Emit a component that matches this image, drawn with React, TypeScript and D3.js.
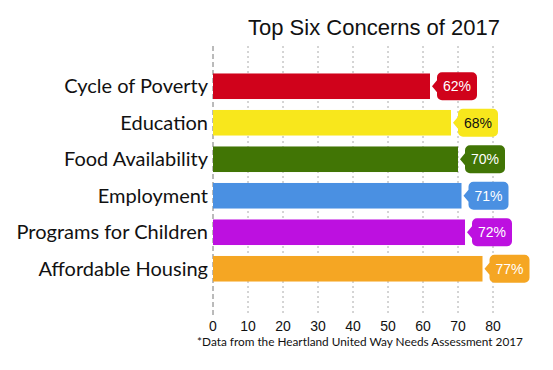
import React from 'react';
import * as d3 from 'd3';

// values
const categories = ['Cycle of Poverty', 'Education', 'Food Availability', 'Employment', 'Programs for Children', 'Affordable Housing'];
const values = [62, 68, 70, 71, 72, 77];
const colors = ['#d0021b', '#f8e71c', '#417505', '#4a90e2', '#bd10e0', '#f5a623'];
const labelColors = ['#fff', '#111', '#fff', '#fff', '#fff', '#fff'];
const ticks = [0, 10, 20, 30, 40, 50, 60, 70, 80];

function App() {
    const layout = { width: 553, height: 370, left: 213, top: 68, plotBottom: 287 };

    const x = d3.scaleLinear().domain([0, 80]).range([layout.left, layout.left + 280]);
    const y = d3.scaleBand()
        .domain(categories)
        .range([layout.top, layout.plotBottom])
        .paddingInner(0.3)
        .paddingOuter(0.15);

    // callout shape: arrow tip at bar end, rounded box to the right
    const callout = (x0: number, cy: number) => {
        const tip = x0 + 2, bx = x0 + 7, w = 40, h = 28, r = 5;
        const top = cy - h / 2, bot = cy + h / 2;
        const p = d3.path();
        p.moveTo(tip, cy);
        p.lineTo(bx, cy - 6);
        p.lineTo(bx, top + r);
        p.arcTo(bx, top, bx + r, top, r);
        p.lineTo(bx + w - r, top);
        p.arcTo(bx + w, top, bx + w, top + r, r);
        p.lineTo(bx + w, bot - r);
        p.arcTo(bx + w, bot, bx + w - r, bot, r);
        p.lineTo(bx + r, bot);
        p.arcTo(bx, bot, bx, bot - r, r);
        p.lineTo(bx, cy + 6);
        p.closePath();
        return p.toString();
    };

    return (
        <svg width={layout.width} height={layout.height}
            style={{ position: 'absolute', left: 0, top: 0, background: '#fff' }}>
            <text x={374} y={35} textAnchor="middle" fontFamily="Liberation Sans, Arial, sans-serif"
                fontSize={22} fill="#111">Top Six Concerns of 2017</text>

            {ticks.map(t => (
                <line key={t} x1={x(t)} x2={x(t)} y1={46} y2={316}
                    stroke={t === 0 ? '#777' : '#aaa'} strokeWidth={1}
                    strokeDasharray={t === 0 ? '5,3' : '2,3'} />
            ))}

            {categories.map((c, i) => {
                const yy = y(c)!;
                const cy = yy + y.bandwidth() / 2;
                const end = x(values[i]);
                return (
                    <g key={c}>
                        <rect x={x(0)} y={yy} width={end - x(0)} height={y.bandwidth()} fill={colors[i]} />
                        <text x={x(0) - 5} y={cy} dy="0.35em" textAnchor="end"
                            fontFamily="Lato, sans-serif" fontSize={20} fill="#111">{c}</text>
                        <path d={callout(end, cy)} fill={colors[i]} />
                        <text x={end + 27} y={cy} dy="0.36em" textAnchor="middle"
                            fontFamily="Liberation Sans, Arial, sans-serif" fontSize={14}
                            fill={labelColors[i]}>{values[i]}%</text>
                    </g>
                );
            })}

            {ticks.map(t => (
                <text key={t} x={x(t)} y={331} textAnchor="middle"
                    fontFamily="Liberation Sans, Arial, sans-serif" fontSize={14} fill="#111">{t}</text>
            ))}

            <text x={360} y={346} textAnchor="middle" fontFamily="Lato, sans-serif" fontSize={11.8} fill="#111">
                *Data from the Heartland United Way Needs Assessment 2017
            </text>
        </svg>
    );
}

export default App;
